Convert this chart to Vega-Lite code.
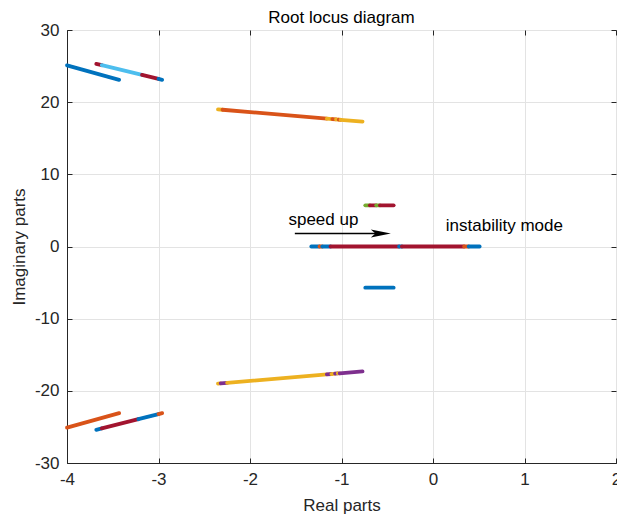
{
  "$schema": "https://vega.github.io/schema/vega-lite/v6.json",
  "width": 549,
  "height": 433,
  "autosize": "none",
  "padding": {"left": 67, "top": 30, "right": 1, "bottom": 57},
  "background": "white",
  "title": {"text": "Root locus diagram", "font": "Liberation Sans", "fontSize": 17, "fontWeight": "normal", "color": "#000000", "offset": -6},
  "config": {
    "view": {"stroke": "#262626", "strokeWidth": 1},
    "axis": {
      "labelFont": "Liberation Sans", "labelFontSize": 17, "labelColor": "#262626",
      "titleFont": "Liberation Sans", "titleFontSize": 17, "titleFontWeight": "normal", "titleColor": "#262626",
      "domainColor": "#262626", "tickColor": "#262626", "gridColor": "#e3e3e3", "gridOpacity": 1
    }
  },
  "datasets": {
    "segs": [
      {"s": 1, "c": "blue", "x": -4.0, "y": 25.1}, {"s": 1, "c": "blue", "x": -3.43, "y": 23.1},
      {"s": 2, "c": "red", "x": -3.68, "y": 25.3}, {"s": 2, "c": "red", "x": -3.62, "y": 25.12},
      {"s": 3, "c": "lightblue", "x": -3.62, "y": 25.12}, {"s": 3, "c": "lightblue", "x": -3.18, "y": 23.77},
      {"s": 4, "c": "red", "x": -3.18, "y": 23.77}, {"s": 4, "c": "red", "x": -3.0, "y": 23.22},
      {"s": 5, "c": "blue", "x": -3.0, "y": 23.22}, {"s": 5, "c": "blue", "x": -2.96, "y": 23.1},
      {"s": 6, "c": "yellow", "x": -2.35, "y": 19.0}, {"s": 6, "c": "yellow", "x": -2.3, "y": 18.95},
      {"s": 7, "c": "orange", "x": -2.3, "y": 18.95}, {"s": 7, "c": "orange", "x": -1.16, "y": 17.72},
      {"s": 8, "c": "yellow", "x": -1.16, "y": 17.72}, {"s": 8, "c": "yellow", "x": -1.1, "y": 17.66},
      {"s": 9, "c": "orange", "x": -1.1, "y": 17.66}, {"s": 9, "c": "orange", "x": -1.06, "y": 17.61},
      {"s": 10, "c": "yellow", "x": -1.06, "y": 17.61}, {"s": 10, "c": "yellow", "x": -1.03, "y": 17.58},
      {"s": 11, "c": "orange", "x": -1.03, "y": 17.58}, {"s": 11, "c": "orange", "x": -1.01, "y": 17.56},
      {"s": 12, "c": "yellow", "x": -1.01, "y": 17.56}, {"s": 12, "c": "yellow", "x": -0.77, "y": 17.3},
      {"s": 13, "c": "yellow", "x": -2.35, "y": -19.0}, {"s": 13, "c": "yellow", "x": -2.32, "y": -18.97},
      {"s": 14, "c": "purple", "x": -2.32, "y": -18.97}, {"s": 14, "c": "purple", "x": -2.25, "y": -18.9},
      {"s": 15, "c": "yellow", "x": -2.25, "y": -18.9}, {"s": 15, "c": "yellow", "x": -1.16, "y": -17.72},
      {"s": 16, "c": "purple", "x": -1.16, "y": -17.72}, {"s": 16, "c": "purple", "x": -1.11, "y": -17.67},
      {"s": 17, "c": "yellow", "x": -1.11, "y": -17.67}, {"s": 17, "c": "yellow", "x": -1.07, "y": -17.62},
      {"s": 18, "c": "purple", "x": -1.07, "y": -17.62}, {"s": 18, "c": "purple", "x": -1.04, "y": -17.59},
      {"s": 19, "c": "yellow", "x": -1.04, "y": -17.59}, {"s": 19, "c": "yellow", "x": -1.02, "y": -17.57},
      {"s": 20, "c": "purple", "x": -1.02, "y": -17.57}, {"s": 20, "c": "purple", "x": -0.77, "y": -17.3},
      {"s": 21, "c": "green", "x": -0.74, "y": 5.7}, {"s": 21, "c": "green", "x": -0.69, "y": 5.7},
      {"s": 22, "c": "red", "x": -0.69, "y": 5.7}, {"s": 22, "c": "red", "x": -0.62, "y": 5.7},
      {"s": 23, "c": "green", "x": -0.62, "y": 5.7}, {"s": 23, "c": "green", "x": -0.58, "y": 5.7},
      {"s": 24, "c": "red", "x": -0.58, "y": 5.7}, {"s": 24, "c": "red", "x": -0.43, "y": 5.7},
      {"s": 25, "c": "blue", "x": -0.74, "y": -5.7}, {"s": 25, "c": "blue", "x": -0.43, "y": -5.7},
      {"s": 26, "c": "blue", "x": -1.33, "y": 0}, {"s": 26, "c": "blue", "x": -1.24, "y": 0},
      {"s": 27, "c": "orange", "x": -1.24, "y": 0}, {"s": 27, "c": "orange", "x": -1.21, "y": 0},
      {"s": 28, "c": "blue", "x": -1.21, "y": 0}, {"s": 28, "c": "blue", "x": -1.12, "y": 0},
      {"s": 29, "c": "red", "x": -1.12, "y": 0}, {"s": 29, "c": "red", "x": -0.37, "y": 0},
      {"s": 30, "c": "blue", "x": -0.37, "y": 0}, {"s": 30, "c": "blue", "x": -0.34, "y": 0},
      {"s": 31, "c": "red", "x": -0.34, "y": 0}, {"s": 31, "c": "red", "x": 0.34, "y": 0},
      {"s": 32, "c": "orange", "x": 0.34, "y": 0}, {"s": 32, "c": "orange", "x": 0.39, "y": 0},
      {"s": 33, "c": "blue", "x": 0.39, "y": 0}, {"s": 33, "c": "blue", "x": 0.51, "y": 0},
      {"s": 34, "c": "orange", "x": -4.0, "y": -25.1}, {"s": 34, "c": "orange", "x": -3.43, "y": -23.1},
      {"s": 35, "c": "blue", "x": -3.68, "y": -25.4}, {"s": 35, "c": "blue", "x": -3.62, "y": -25.21},
      {"s": 36, "c": "red", "x": -3.62, "y": -25.21}, {"s": 36, "c": "red", "x": -3.22, "y": -23.93},
      {"s": 37, "c": "blue", "x": -3.22, "y": -23.93}, {"s": 37, "c": "blue", "x": -3.0, "y": -23.23},
      {"s": 38, "c": "orange", "x": -3.0, "y": -23.23}, {"s": 38, "c": "orange", "x": -2.96, "y": -23.1}
    ],
    "arrow": [
      {"x": -1.51, "y": 1.8}, {"x": -0.57, "y": 1.8}
    ],
    "head": [
      {"x": -0.57, "y": 1.8}
    ],
    "notes": [
      {"x": -1.58, "y": 3.0, "t": "speed up"},
      {"x": 0.14, "y": 2.1, "t": "instability mode"}
    ]
  },
  "resolve": {"axis": {"x": "independent", "y": "independent"}},
  "layer": [
    {
      "data": {"name": "segs"},
      "mark": {"type": "line", "strokeWidth": 3.8, "strokeCap": "round"},
      "encoding": {
        "x": {"field": "x", "type": "quantitative", "scale": {"domain": [-4, 2], "nice": false, "zero": false},
              "axis": {"title": "Real parts", "values": [-4, -3, -2, -1, 0, 1, 2], "tickSize": -5, "labelPadding": 13, "titlePadding": 10, "labelFlush": false,
                       "labelExpr": "datum.value < 0 ? '-' + abs(datum.value) : '' + datum.value"}},
        "y": {"field": "y", "type": "quantitative", "scale": {"domain": [-30, 30], "nice": false, "zero": false},
              "axis": {"title": "Imaginary parts", "values": [-30, -20, -10, 0, 10, 20, 30], "tickSize": -5, "labelPadding": 13, "titlePadding": 6, "labelFlush": false,
                       "labelExpr": "datum.value < 0 ? '-' + abs(datum.value) : '' + datum.value"}},
        "detail": {"field": "s", "type": "nominal"},
        "color": {"field": "c", "type": "nominal", "legend": null,
                  "scale": {"domain": ["blue", "orange", "yellow", "purple", "green", "lightblue", "red"],
                            "range": ["#0072BD", "#D95319", "#EDB120", "#7E2F8E", "#77AC30", "#4DBEEE", "#A2142F"]}}
      }
    },
    {
      "data": {"name": "arrow"},
      "mark": {"type": "line", "color": "#000000", "strokeWidth": 1.3},
      "encoding": {
        "x": {"field": "x", "type": "quantitative", "axis": {"orient": "top", "values": [-4, -3, -2, -1, 0, 1, 2], "labels": false, "tickSize": -5, "grid": false, "domain": false, "title": null}},
        "y": {"field": "y", "type": "quantitative", "axis": {"orient": "right", "values": [-30, -20, -10, 0, 10, 20, 30], "labels": false, "tickSize": -5, "grid": false, "domain": false, "title": null}}
      }
    },
    {
      "data": {"name": "head"},
      "mark": {"type": "point", "shape": "M-1,-0.4 L1,0 L-1,0.4 L-0.55,0 Z", "filled": true, "color": "#000000", "opacity": 1, "size": 400},
      "encoding": {
        "x": {"field": "x", "type": "quantitative", "axis": null},
        "y": {"field": "y", "type": "quantitative", "axis": null}
      }
    },
    {
      "data": {"name": "notes"},
      "mark": {"type": "text", "align": "left", "baseline": "alphabetic", "font": "Liberation Sans", "fontSize": 17, "color": "#000000"},
      "encoding": {
        "x": {"field": "x", "type": "quantitative", "axis": null},
        "y": {"field": "y", "type": "quantitative", "axis": null},
        "text": {"field": "t", "type": "nominal"}
      }
    }
  ]
}
